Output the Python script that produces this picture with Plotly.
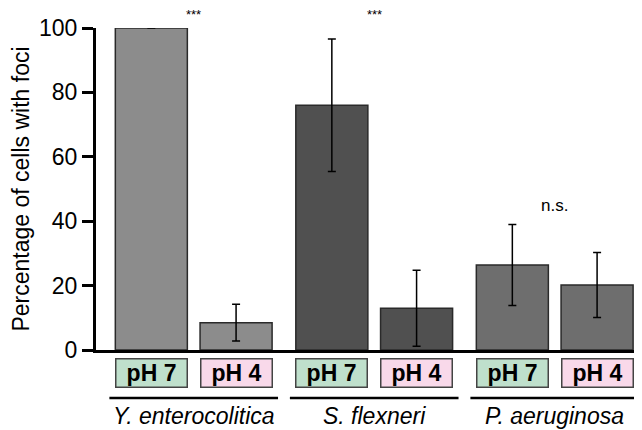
import plotly.graph_objects as go

species = ["Y. enterocolitica", "S. flexneri", "P. aeruginosa"]
conditions = ["pH 7", "pH 4"]
means = [[100.0, 8.5], [76.0, 13.0], [26.4, 20.2]]
errors = [[None, 5.7], [20.6, 11.8], [12.6, 10.1]]
significance = ["***", "***", "n.s."]
y_ticks = [0, 20, 40, 60, 80, 100]

bar_colors = ["#8c8c8c", "#505050", "#6e6e6e"]
cond_colors = {"pH 7": "#bfe0cc", "pH 4": "#f9d9ea"}

GROUP_PITCH = 2.13
BAR_W = 0.85
XMIN, XMAX = -0.653, 5.79
FONT = "Liberation Sans, Arial, sans-serif"

fig = go.Figure()
for g, sp in enumerate(species):
    xs = [g * GROUP_PITCH + c for c in range(len(conditions))]
    fig.add_trace(go.Bar(
        x=xs, y=means[g], width=BAR_W,
        marker=dict(color=bar_colors[g], line=dict(color="#2a2a2a", width=1.5)),
        error_y=dict(type="data", array=errors[g], color="black", thickness=1.5, width=4),
        showlegend=False,
    ))
    for c, cond in enumerate(conditions):
        fig.add_annotation(
            x=xs[c], y=-0.071, xref="x", yref="paper", text="<b>" + cond + "</b>",
            showarrow=False, font=dict(family=FONT, size=23, color="black"),
            bgcolor=cond_colors[cond], bordercolor="#444", borderwidth=1.5,
            borderpad=0, width=70, height=27, xanchor="center", yanchor="middle",
        )
    gc = g * GROUP_PITCH + 0.5
    x0 = xs[0] - BAR_W / 2 - 0.07
    x1 = xs[-1] + BAR_W / 2 + 0.07
    if g == len(species) - 1:
        x1 = XMAX
    fig.add_shape(type="line", xref="x", yref="paper", x0=x0, x1=x1,
                  y0=-0.149, y1=-0.149, line=dict(color="black", width=2.5))
    fig.add_annotation(x=gc, y=-0.205, xref="x", yref="paper", text="<i>" + sp + "</i>",
                       showarrow=False, font=dict(family=FONT, size=23, color="black"),
                       xanchor="center", yanchor="middle")
    if significance[g] == "***":
        fig.add_annotation(x=gc, y=1.043, xref="x", yref="paper", text=significance[g],
                           showarrow=False, font=dict(family=FONT, size=13, color="black"),
                           xanchor="center", yanchor="middle")
    else:
        top = max(m + (e or 0) for m, e in zip(means[g], errors[g]))
        fig.add_annotation(x=gc, y=top + 6, xref="x", yref="y", text=significance[g],
                           showarrow=False, font=dict(family=FONT, size=17, color="black"),
                           xanchor="center", yanchor="middle")

fig.update_layout(
    width=634, height=422,
    margin=dict(l=88, r=0, t=20, b=80),
    plot_bgcolor="white", paper_bgcolor="white",
    font=dict(family=FONT, color="black"),
    xaxis=dict(range=[XMIN, XMAX], showline=True, linecolor="black", linewidth=3,
               showticklabels=False, ticks="", showgrid=False, zeroline=False),
    yaxis=dict(range=[0, 100], tickvals=y_ticks, showline=True, linecolor="black",
               linewidth=3, ticks="outside", ticklen=11, tickwidth=3, tickcolor="black",
               tickfont=dict(size=23, family=FONT), showgrid=False, zeroline=False,
               title=dict(text="Percentage of cells with foci", font=dict(size=23, family=FONT),
                          standoff=8)),
)

fig.write_html("out.html")
